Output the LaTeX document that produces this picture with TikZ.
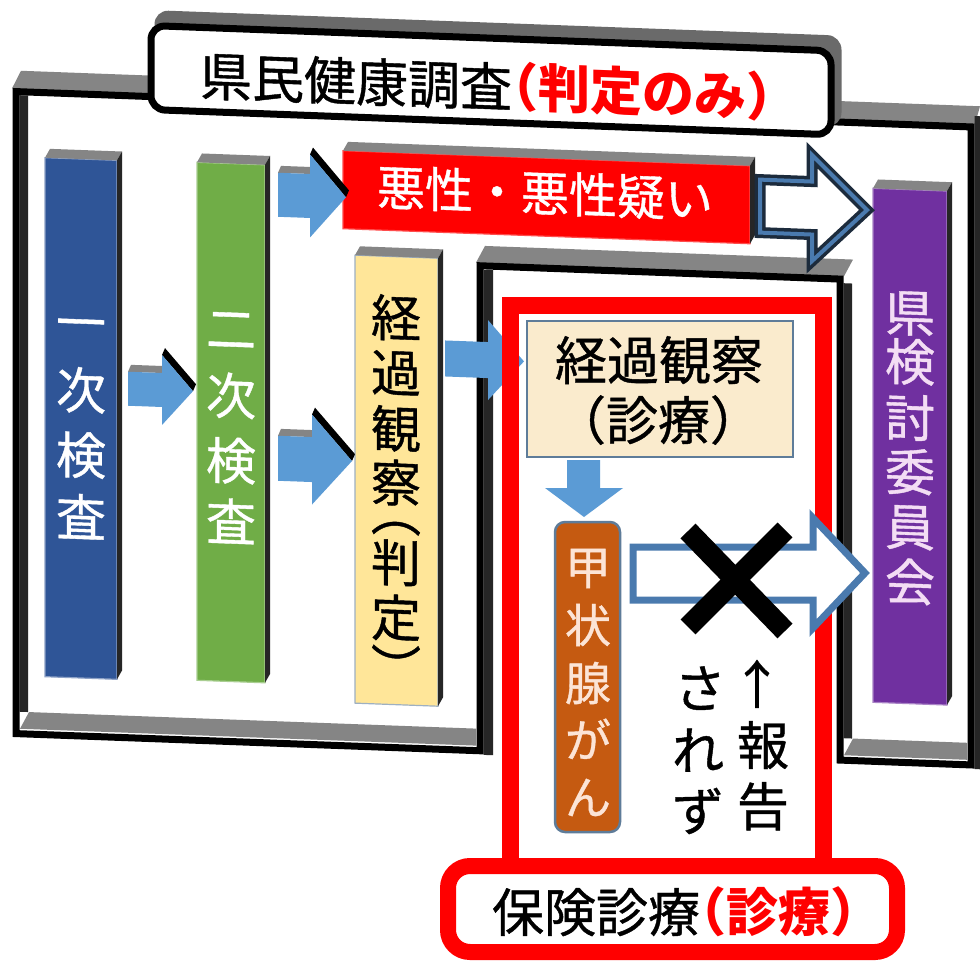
\documentclass[tikz,border=0pt]{standalone}
\usepackage{fontspec}
\newfontfamily\jp[FakeBold=0.8]{Noto Sans CJK JP}
\newfontfamily\jph[FakeBold=0.8,RawFeature=+halt]{Noto Sans CJK JP}
\newfontfamily\jpr{Noto Sans CJK JP}
\newfontfamily\jprh[RawFeature=+halt]{Noto Sans CJK JP}
\usetikzlibrary{calc}
\definecolor{cblue}{HTML}{2F5597}
\definecolor{cgreen}{HTML}{70AD47}
\definecolor{cyellow}{HTML}{FFE699}
\definecolor{cpurple}{HTML}{7030A0}
\definecolor{cbrown}{HTML}{C55A11}
\definecolor{carrow}{HTML}{5B9BD5}
\definecolor{ccream}{HTML}{FAEBCD}
\definecolor{cgray}{HTML}{858585}
\definecolor{cdark}{HTML}{262626}
\definecolor{cnavy}{HTML}{1C2B3C}
\definecolor{csteel}{HTML}{4A7AAE}
\definecolor{cboxedge}{HTML}{5E7C99}
\definecolor{cpink}{HTML}{F3DDF4}
\definecolor{cpeach}{HTML}{FCE4D6}
\newcommand\lp{{\jph （}}
\newcommand\rp{{\jph ）}}
\newcommand\redpart[1]{{\color{red}\bfseries{\jprh\bfseries （}{\jpr\bfseries #1}{\jprh\bfseries ）}}}
\tikzset{
  framegray/.style={fill=cgray},
  framedark/.style={fill=cdark},
  colbar/.style={inner sep=0pt, outer sep=0pt, line width=1.2pt},
  vch/.style={inner sep=0pt, text height=44pt, text depth=6pt, font=\jp\fontsize{50}{50}\selectfont},
  bigtext/.style={inner sep=0pt, text height=45.8pt, text depth=6.2pt, font=\jp\fontsize{52}{60}\selectfont},
}
\newcommand\barthreed[1]{%
  \fill[cgray] (#1.north west) -- ++(5,-9) -- ($(#1.north east)+(5,-9)$) -- (#1.north east) -- cycle;
  \fill[cdark] (#1.north east) -- ++(5,-9) -- ($(#1.south east)+(5,-9)$) -- (#1.south east) -- cycle;
}
\newcommand\arrowthreed[6]{%
  \fill[cgray] (#1,#2-#5) -- (#1+3,#2-#5-7) -- (#3+3,#2-#5-7) -- (#3,#2-#5) -- cycle;
  \fill[black] (#3,#2-#6) -- (#3+3,#2-#6-7) -- (#4+3,#2-7) -- (#4,#2) -- cycle;
  \fill[carrow] (#1,#2-#5) -- (#3,#2-#5) -- (#3,#2-#6) -- (#4,#2) -- (#3,#2+#6) -- (#3,#2+#5) -- (#1,#2+#5) -- cycle;
}
\begin{document}
\begin{tikzpicture}[x=1pt,y=-1pt]
\useasboundingbox (0,0) rectangle (980,963);
\fill[white] (0,0) rectangle (980,963);
\begin{scope}[cm={1,-0.037,0,1,(0,0)}, transform shape]
  % big frame
  \fill[framegray] (12,88) -- (21,70) -- (980,70) -- (975,88) -- cycle;
  \fill[framegray] (476,245) -- (485,228) -- (853,228) -- (844,245) -- cycle;
  \fill[framegray] (20,728) -- (29,711) -- (476,711) -- (476,728) -- cycle;
  \fill[framegray] (844,724) -- (853,707) -- (967,707) -- (967,724) -- cycle;
  \fill[framedark] (19.5,94.5) rectangle (28,711);
  \fill[framedark] (483.5,252) rectangle (493,737);
  \fill[framedark] (843.5,252) rectangle (852,707);
  \fill[framedark] (974.5,80) rectangle (980,733);
  \draw[line width=7pt, line join=miter] (16,91) -- (971,91) -- (971,729) -- (840,729) -- (840,248) -- (480,248) -- (480,733) -- (16,733) -- cycle;
  % title
  \fill[cgray!80!black, rounded corners=14pt] (154.5,4.5) rectangle (841.5,95.5);
  \node[draw, line width=7pt, rounded corners=14pt, fill=white, minimum width=680pt, minimum height=84pt, inner sep=0pt] (titlebox) at (491,62) {};
  \node[bigtext] (titletext) at (486,68) {県民健康調査\redpart{判定のみ}};
  % columns
  \node[colbar, fill=cblue, draw=cblue!55!white, minimum width=72pt, minimum height=519pt] (c1) at (81,415.5) {};
  \barthreed{c1}
  \node[colbar, fill=cgreen, draw=cgreen!60!white, minimum width=68pt, minimum height=518pt] (c2) at (231,414) {};
  \barthreed{c2}
  \node[colbar, fill=cyellow, draw=cboxedge!60!white, minimum width=83pt, minimum height=448pt] (c3) at (396.5,466) {};
  \barthreed{c3}
  \node[colbar, fill=cpurple, draw=cpurple!60!white, minimum width=74pt, minimum height=514pt] (c4) at (910,413) {};
  \barthreed{c4}
  \node[colbar, fill=red, draw=red!70!white, minimum width=407pt, minimum height=78pt] (akusei) at (546.5,177) {};
  \barthreed{akusei}
  \foreach \ch/\yy [count=\i] in {一/319,次/387,検/452,査/514}
    \node[vch, text=white] (ta\i) at (81,\yy) {\ch};
  \foreach \ch/\yy [count=\i] in {二/320,次/387,検/452,査/513}
    \node[vch, text=white] (tb\i) at (231,\yy) {\ch};
  \foreach \ch/\yy [count=\i] in {経/303,過/358,観/414,察/468,判/548,定/603}
    \node[vch, text=black] (tc\i) at (396,\yy) {\ch};
  \node[vch, text=black, rotate=-90] (tcl) at (396,510) {\lp};
  \node[vch, text=black, rotate=-90] (tcr) at (396,641) {\rp};
  \foreach \ch/\yy [count=\i] in {県/279,検/328,討/384,委/438,員/493,会/548}
    \node[vch, text=cpink] (td\i) at (910,\yy) {\ch};
  \node[inner sep=0pt, text height=42.2pt, text depth=5.8pt, font=\jp\fontsize{48}{48}\selectfont, text=white] (akuseitext) at (545,173) {悪性・悪性疑い};
  % arrows
  \arrowthreed{128}{384}{162}{193}{17}{35}
  \arrowthreed{278}{448}{312}{352}{22.5}{45}
  \arrowthreed{278}{184.5}{310}{346}{22}{41.5}
  \fill[carrow] (445,324) -- (488,324) -- (488,302) -- (524,342) -- (488,382) -- (488,360) -- (445,360) -- cycle;
  \draw[cnavy, line width=11pt, line join=miter, fill=white] (760,151.5) -- (812,151.5) -- (812,125) -- (867,178) -- (812,231) -- (812,204.5) -- (760,204.5) -- cycle;
  \draw[csteel, line width=4pt, line join=miter] (760,151.5) -- (812,151.5) -- (812,125) -- (867,178) -- (812,231) -- (812,204.5) -- (760,204.5) -- cycle;
\end{scope}
% insurance part (not sheared)
\draw[red, line width=17pt, line join=miter] (510,875) -- (510,305) -- (823,305) -- (823,875);
\node[draw=red, line width=16pt, rounded corners=22pt, fill=white, minimum width=449pt, minimum height=86pt, inner sep=0pt] (hoken) at (672.5,909) {};
\node[bigtext] (hokentext) at (674,912) {保険診療\redpart{診療}};
\node[draw=cboxedge, line width=2pt, fill=ccream, minimum width=266pt, minimum height=136pt, inner sep=0pt] (kansatsu) at (660,389) {};
\node[bigtext] (kansatsu1) at (659,360) {経過観察};
\node[bigtext] (kansatsu2) at (658,420) {\lp 診療\rp};
\node[draw=cboxedge, line width=2.5pt, fill=cbrown, rounded corners=10pt, minimum width=65pt, minimum height=310pt, inner sep=0pt] (kojo) at (587.5,677) {};
\foreach \ch/\yy [count=\i] in {甲/567,状/625,腺/683,が/740,ん/797}
  \node[inner sep=0pt, text height=40.5pt, text depth=5.5pt, font=\jp\fontsize{46}{46}\selectfont, text=cpeach] (te\i) at (588,\yy) {\ch};
\fill[carrow] (567,460) -- (600,460) -- (600,488) -- (623,488) -- (584,517) -- (545,488) -- (567,488) -- cycle;
\draw[csteel, line width=7pt, line join=miter, fill=white] (633,547) -- (813,547) -- (813,518) -- (865,573) -- (813,628) -- (813,600) -- (633,600) -- cycle;
\draw[line width=21pt] (688,531) -- (785,631);
\draw[line width=21pt] (785,530) -- (688,627);
\foreach \ch/\xx/\yy [count=\i] in {↑/757/684,報/763/745,告/763/806,さ/700/688,れ/698/750,ず/698/811}
  \node[inner sep=0pt, text height=45.8pt, text depth=6.2pt, font=\jp\fontsize{52}{52}\selectfont] (tf\i) at (\xx,\yy) {\ch};
\end{tikzpicture}
\end{document}
